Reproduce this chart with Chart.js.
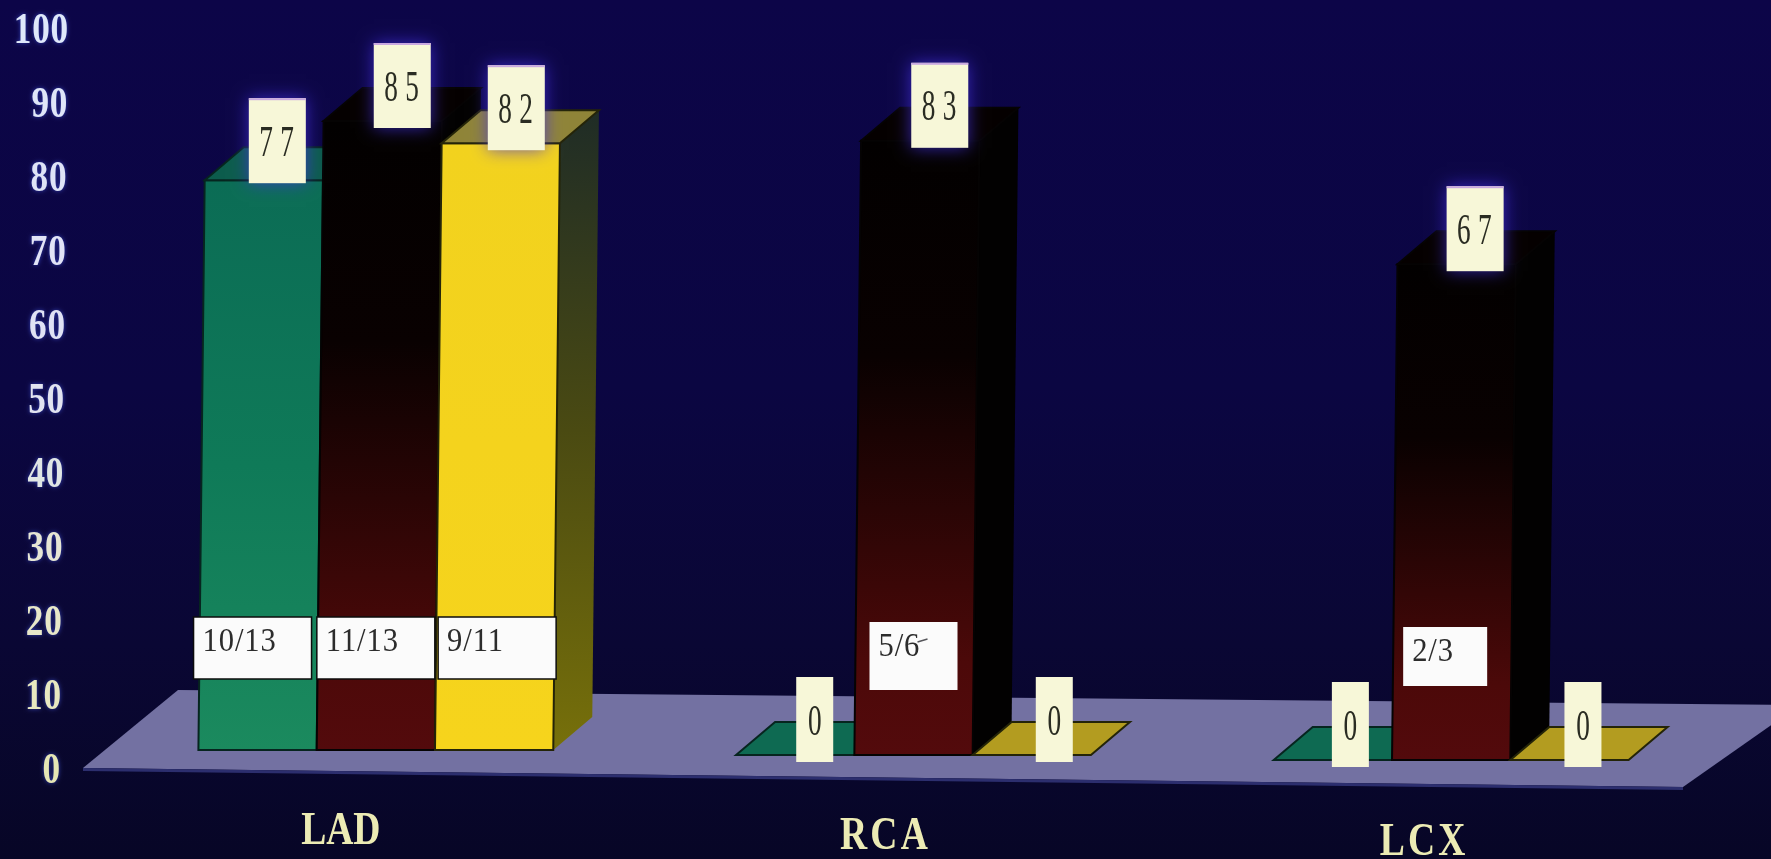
<!DOCTYPE html>
<html>
<head>
<meta charset="utf-8">
<title>LAD RCA LCX</title>
<style>
  html, body { margin: 0; padding: 0; background: #0a0638; overflow: hidden; }
  canvas { display: block; }
</style>
<script src="https://cdn.jsdelivr.net/npm/chart.js@4/dist/chart.umd.js"></script>
</head>
<body>
<canvas id="chart" width="1771" height="859"></canvas>
<script>
/* ---------- DATA ---------- */
const categories = ['LAD', 'RCA', 'LCX'];
const greenValues = [77, 0, 0];
const darkValues = [85, 83, 67];
const yellowValues = [82, 0, 0];
const greenCounts = ['10/13', '', ''];
const darkCounts = ['11/13', '5/6', '2/3'];
const yellowCounts = ['9/11', '', ''];
const yTicks = [0, 10, 20, 30, 40, 50, 60, 70, 80, 90, 100];

/* ---------- LAYOUT ---------- */
const DEPTH_X = 39, DEPTH_Y = -33;     // extrusion of the bars
const LEAN = 0.011;                    // bars tip right as they get taller
const GROUP_DY = [-18, -13, -8];       // the floor runs downhill to the right
const COUNT_BOX = [
  { w: 118, h: 62, up: 133, nudge: [-5, 0, 3] },
  { w: 88, h: 68, up: 133, nudge: [0, 0, 0] },
  { w: 84, h: 59, up: 133, nudge: [0, -6, 0] },
];
const FLAG_NUDGE = [[-6, 0, -2], [0, 0, -1], [-4, 3, -6]];
const FLAG_LIFT = [[4, 0, 0], [0, 0, 0], [0, 0, 0]];
const LABEL_NUDGE = [[-35, 76], [-28, 81], [-27, 87]];
const TICK_COLORS = ['#e6e6b4', '#e8e8c0', '#e8e8c8', '#e6e6d4', '#e0e6e4', '#e2e4f0',
  '#e0e2f4', '#e2e4f6', '#dfe4f6', '#dfe6f8', '#dfe8fa'];
const SERIF = '"Liberation Serif", serif';

/* ---------- DRAW HELPERS ---------- */
function poly(ctx, pts, fill, stroke) {
  ctx.beginPath();
  pts.forEach((p, i) => i ? ctx.lineTo(p[0], p[1]) : ctx.moveTo(p[0], p[1]));
  ctx.closePath();
  ctx.fillStyle = fill;
  ctx.fill();
  if (stroke) {
    ctx.strokeStyle = stroke;
    ctx.lineWidth = 2;
    ctx.stroke();
  }
}

function squeezed(ctx, text, x, y, sx, font, color, align, spacing) {
  ctx.save();
  ctx.translate(x, y);
  ctx.scale(sx, 1);
  ctx.font = font;
  ctx.fillStyle = color;
  ctx.textAlign = align;
  ctx.textBaseline = 'alphabetic';
  ctx.letterSpacing = spacing || '0px';
  ctx.fillText(text, 0, 0);
  ctx.restore();
}

function vertical(ctx, top, bottom, stops) {
  const g = ctx.createLinearGradient(0, top, 0, bottom);
  stops.forEach(s => g.addColorStop(s[0], s[1]));
  return g;
}

// corners of one bar's front face, taken from the element the bar scale laid out
function barBox(chart, ds, i) {
  const el = chart.getDatasetMeta(ds).data[i].getProps(['x', 'y', 'base', 'width'], true);
  const left = el.x - el.width / 2;
  const top = el.y + GROUP_DY[i];
  const base = el.base + GROUP_DY[i];
  const lean = (base - top) * LEAN;
  return { left, right: left + el.width, top, base, lean, width: el.width };
}

const STYLES = [
  {
    front: (ctx, b) => vertical(ctx, b.top, b.base, [[0, '#0b6c55'], [0.5, '#0f7a58'], [1, '#1b8a5e']]),
    top: '#0c5c4c', flat: '#0e6a52', side: '#04382e', edge: '#06251f',
  },
  {
    front: (ctx, b) => vertical(ctx, b.top, b.base, [[0, '#020000'], [0.35, '#090101'], [0.6, '#2a0505'], [0.85, '#4c0909'], [1, '#530a0c']]),
    top: '#050000', flat: '#050000', side: '#020101', edge: '#050303',
  },
  {
    front: (ctx, b) => vertical(ctx, b.top, b.base, [[0, '#f2d21e'], [1, '#f6d41c']]),
    top: '#8f8438', flat: '#b39c20', side: (ctx, b) => vertical(ctx, b.top + DEPTH_Y, b.base, [[0, '#1f2c26'], [0.5, '#4a4a12'], [1, '#77700a']]), edge: '#242408',
  },
];

/* ---------- 3D SCENE ---------- */
const scene = {
  id: 'scene',
  beforeDraw(chart) {
    const { ctx, width, height } = chart;
    ctx.fillStyle = vertical(ctx, 0, height, [[0, '#0c0548'], [0.45, '#0b0642'], [0.75, '#0a0734'], [1, '#070626']]);
    ctx.fillRect(0, 0, width, height);
  },
  beforeDatasetsDraw(chart) {
    const { ctx } = chart;
    const zero = chart.scales.y.getPixelForValue(0);
    // grey floor the columns stand on
    poly(ctx, [[83, zero], [1683, zero + 19], [1800, zero - 63], [178, zero - 78]], '#7371a2');
    ctx.strokeStyle = '#2c2e6e';
    ctx.lineWidth = 3;
    ctx.beginPath();
    ctx.moveTo(83, zero + 1.5);
    ctx.lineTo(1683, zero + 20.5);
    ctx.stroke();

    categories.forEach((_, i) => {
      STYLES.forEach((st, ds) => {
        const b = barBox(chart, ds, i);
        const tl = [b.left + b.lean, b.top], tr = [b.right + b.lean, b.top];
        const bl = [b.left, b.base], br = [b.right, b.base];
        const side = typeof st.side === 'function' ? st.side(ctx, b) : st.side;
        const tall = b.base - b.top > 1;
        if (tall) {
          poly(ctx, [br, tr, [tr[0] + DEPTH_X, tr[1] + DEPTH_Y], [br[0] + DEPTH_X, br[1] + DEPTH_Y]], side);
          poly(ctx, [bl, tl, tr, br], st.front(ctx, b), st.edge);
        }
        poly(ctx, [tl, tr, [tr[0] + DEPTH_X, tr[1] + DEPTH_Y], [tl[0] + DEPTH_X, tl[1] + DEPTH_Y]], tall ? st.top : st.flat, st.edge);
      });
    });
    return false; // faces above replace the flat rectangles
  },
  afterDraw(chart) {
    const { ctx } = chart;
    const yScale = chart.scales.y, xScale = chart.scales.x;

    // y axis numbers, tipped along with the columns
    yScale.ticks.forEach((t, k) => {
      const y = yScale.getPixelForTick(k);
      ctx.save();
      ctx.shadowColor = 'rgba(70,90,230,0.7)';
      ctx.shadowBlur = 4;
      squeezed(ctx, t.label, 61 + t.value * 0.08, y + 15, 0.8, 'bold 44px ' + SERIF, TICK_COLORS[k], 'right', '1px');
      ctx.restore();
    });

    // category names under the floor
    categories.forEach((name, i) => {
      const x = xScale.getPixelForTick(i) + LABEL_NUDGE[i][0];
      const y = yScale.getPixelForValue(0) + LABEL_NUDGE[i][1];
      squeezed(ctx, name, x, y, 0.8, 'bold 47px ' + SERIF, '#ecebb4', 'center', i ? '4px' : '0px');
    });

    // n/N plates across the columns
    [greenCounts, darkCounts, yellowCounts].forEach((counts, ds) => {
      counts.forEach((txt, i) => {
        if (!txt) return;
        const b = barBox(chart, ds, i), box = COUNT_BOX[i];
        const cx = (b.left + b.right) / 2 + box.nudge[ds];
        const left = cx - box.w / 2, top = b.base - box.up;
        ctx.fillStyle = '#fbfbfb';
        ctx.fillRect(left, top, box.w, box.h);
        if (i === 0) {
          ctx.strokeStyle = '#0c0c0c';
          ctx.lineWidth = 1.5;
          ctx.strokeRect(left, top, box.w, box.h);
        }
        squeezed(ctx, txt, left + 9, top + 34, 0.9, '34px ' + SERIF, '#2c2c2c', 'left', '1px');
        if (txt === '5/6') {
          // stray pen stroke over the 6
          ctx.strokeStyle = '#55555a';
          ctx.lineWidth = 1.5;
          ctx.beginPath();
          ctx.moveTo(left + 48, top + 20);
          ctx.lineTo(left + 58, top + 17);
          ctx.stroke();
        }
      });
    });

    // value flags standing on each column
    [greenValues, darkValues, yellowValues].forEach((vals, ds) => {
      vals.forEach((v, i) => {
        const b = barBox(chart, ds, i);
        const txt = String(v);
        const w = txt.length > 1 ? 57 : 37, h = 85;
        const cx = (b.left + b.right) / 2 + b.lean + DEPTH_X / 2 + FLAG_NUDGE[ds][i];
        const top = b.top + 7 - h - FLAG_LIFT[ds][i];
        ctx.save();
        ctx.shadowColor = 'rgba(70,50,230,0.75)';
        ctx.shadowBlur = v ? 16 : 0;
        ctx.fillStyle = '#f7f7d8';
        ctx.fillRect(cx - w / 2, top, w, h);
        ctx.restore();
        if (v) {
          ctx.fillStyle = '#c9a8e0';
          ctx.fillRect(cx - w / 2, top, w, 2);
        }
        const sp = txt.length > 1 ? '12px' : '0px';
        squeezed(ctx, txt, cx + (txt.length > 1 ? 3 : 0), top + h / 2 + 15, 0.62, '44px ' + SERIF, '#2a2c22', 'center', sp);
      });
    });
  },
};

/* ---------- CHART ---------- */
new Chart(document.getElementById('chart'), {
  type: 'bar',
  data: {
    labels: categories,
    datasets: [
      { label: 'green', data: greenValues, backgroundColor: '#0f7a58' },
      { label: 'dark', data: darkValues, backgroundColor: '#2a0505' },
      { label: 'yellow', data: yellowValues, backgroundColor: '#f5d31f' },
    ],
  },
  options: {
    responsive: false,
    animation: false,
    layout: { padding: { left: 107, right: 51, top: 28, bottom: 91 } },
    datasets: { bar: { categoryPercentage: 0.66, barPercentage: 1 } },
    plugins: { legend: { display: false }, tooltip: { enabled: false } },
    scales: {
      x: { grid: { display: false, drawTicks: false }, border: { display: false }, ticks: { display: false } },
      y: {
        min: yTicks[0],
        max: yTicks[yTicks.length - 1],
        grid: { display: false, drawTicks: false },
        border: { display: false },
        ticks: { display: false, stepSize: 10 },
      },
    },
  },
  plugins: [scene],
});
</script>
</body>
</html>
